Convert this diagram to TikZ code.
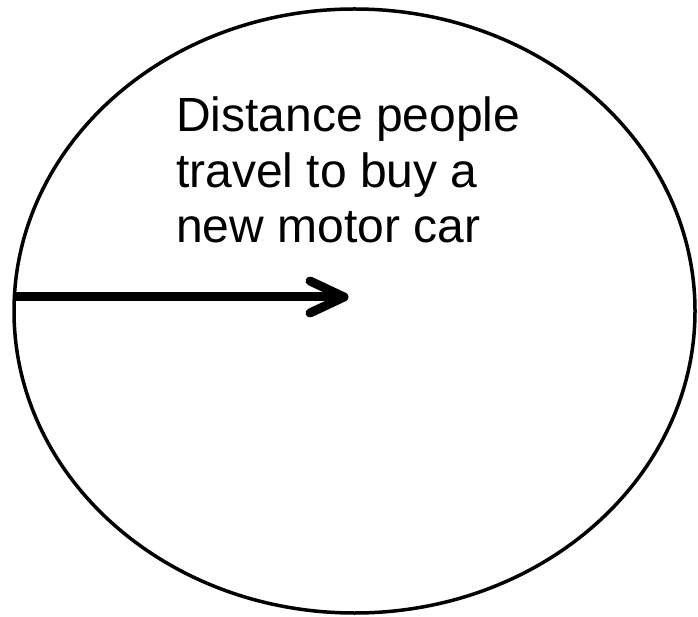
\documentclass[tikz,border=0pt]{standalone}
\usepackage{fontspec}
\setmainfont{Liberation Sans}
\begin{document}
\begin{tikzpicture}[x=1pt,y=1pt,
  txt/.style={anchor=base west,inner sep=0pt,font=\fontsize{48}{55}\selectfont},
  arrowline/.style={line width=9pt,line cap=round,line join=round}]
\useasboundingbox (0,0) rectangle (698,616);
\draw[line width=3.5pt] (354.5,305) ellipse [x radius=340.5,y radius=302];
\node[txt] (l1) at (176,484) {Distance people};
\node[txt] (l2) at (176,428) {travel to buy a};
\node[txt] (l3) at (176,373) {new motor car};
\coordinate (s) at (14,319);
\coordinate (t) at (344,319);
\coordinate (a1) at (310,335);
\coordinate (a2) at (310,303);
\draw[line width=9pt] (s) -- (t);
\draw[arrowline] (a1) -- (t) -- (a2);
\end{tikzpicture}
\end{document}
